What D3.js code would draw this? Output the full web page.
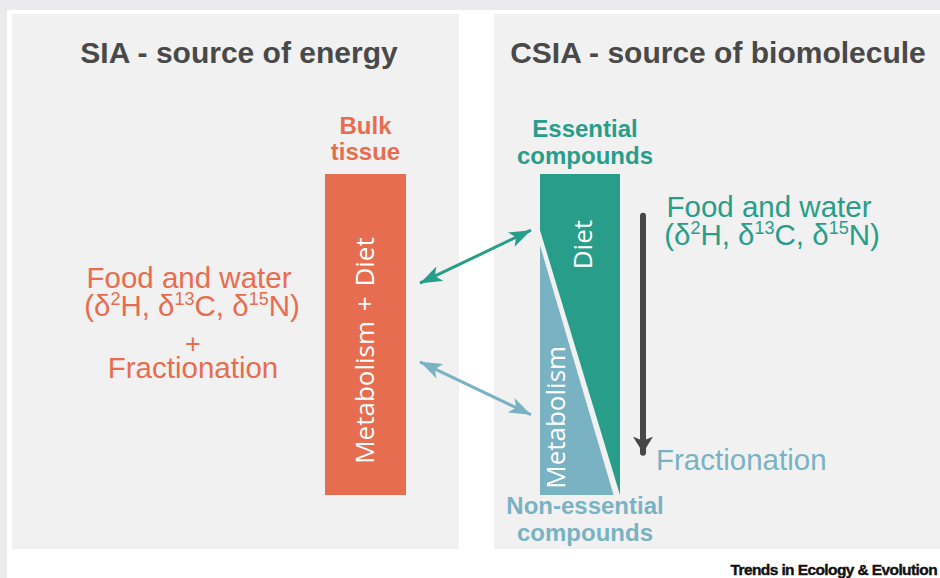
<!DOCTYPE html>
<html>
<head>
<meta charset="utf-8">
<script src="https://cdn.jsdelivr.net/npm/d3@7/dist/d3.min.js"></script>
<style>
  body { margin: 0; background: #fff; }
  svg { display: block; font-family: "Liberation Sans", Arial, sans-serif; }
</style>
</head>
<body>
<svg id="chart" width="940" height="578"></svg>
<script>
// panel headings
const panelTitles = ['SIA - source of energy', 'CSIA - source of biomolecule'];

// labels above / below the bars
const bulkLabel = ['Bulk', 'tissue'];
const essentialLabel = ['Essential', 'compounds'];
const nonEssentialLabel = ['Non-essential', 'compounds'];

// isotopes written as δ^mass element
const isotopes = [
    { mass: '2', el: 'H' },
    { mass: '13', el: 'C' },
    { mass: '15', el: 'N' },
];

// bar contents
const bulkContent = 'Metabolism + Diet';
const csiaContent = ['Diet', 'Metabolism'];

// split of the CSIA bar: depth (0 top .. 1 bottom) vs share of bar width
const dietEdge = [
    { depth: 0.175, share: 0 },
    { depth: 1.0, share: 1.0 },
];
const metabEdge = [
    { depth: 0.222, share: 0 },
    { depth: 1.0, share: 0.92 },
];

// links between bulk bar and CSIA bar (depth at each end)
const links = [
    { name: 'diet', from: 0.34, to: 0.175 },
    { name: 'metab', from: 0.585, to: 0.75 },
];

const colors = {
    orange: '#e66d4f',
    teal: '#289d8a',
    blue: '#79b3c3',
    dark: '#474747',
    title: '#494949',
    panel: '#f1f1f1',
    frame: '#ebebed',
};

const svg = d3.select('#chart');

// outer frame
svg.append('rect').attr('x', 0).attr('y', 0).attr('width', 940).attr('height', 10).style('fill', colors.frame);
svg.append('rect').attr('x', 0).attr('y', 0).attr('width', 7).attr('height', 578).style('fill', colors.frame);

// panels
const panelX = d3.scaleOrdinal().domain(panelTitles).range([12, 494]);
const panelW = 447;
svg.append('g')
    .selectAll('rect')
    .data(panelTitles)
    .enter()
    .append('rect')
    .attr('x', (d) => panelX(d))
    .attr('y', 14)
    .attr('width', panelW)
    .attr('height', 535)
    .style('fill', colors.panel);

const titleCx = d3.scaleOrdinal().domain(panelTitles).range([239, 718]);
svg.append('g')
    .selectAll('text')
    .data(panelTitles)
    .enter()
    .append('text')
    .attr('x', (d) => titleCx(d))
    .attr('y', 63)
    .attr('text-anchor', 'middle')
    .style('font-size', '30px')
    .style('font-weight', 'bold')
    .style('fill', colors.title)
    .text((d) => d);

// depth scale shared by both bars
const yDepth = d3.scaleLinear().domain([0, 1]).range([174, 495]);
// bar widths
const xBulk = d3.scaleLinear().domain([0, 1]).range([325, 406]);
const xCsia = d3.scaleLinear().domain([0, 1]).range([540, 620]);

// ---- bulk bar
svg.append('rect')
    .attr('x', xBulk(0))
    .attr('y', yDepth(0))
    .attr('width', xBulk(1) - xBulk(0))
    .attr('height', yDepth(1) - yDepth(0))
    .style('fill', colors.orange);

svg.append('text')
    .attr('transform', `translate(${xBulk(0.5) + 8}, ${yDepth(0.55)}) rotate(-90)`)
    .attr('text-anchor', 'middle')
    .style('font-family', '"Open Sans", sans-serif')
    .style('font-size', '26px')
    .style('word-spacing', '3px')
    .style('fill', '#fff')
    .text(bulkContent);

// ---- CSIA bar
const dietPoly = [
    [xCsia(0), yDepth(0)],
    [xCsia(1), yDepth(0)],
    [xCsia(1), yDepth(1)],
    ...dietEdge.slice().reverse().map((d) => [xCsia(d.share), yDepth(d.depth)]),
];
const metabPoly = [
    ...metabEdge.map((d) => [xCsia(d.share), yDepth(d.depth)]),
    [xCsia(0), yDepth(1)],
];
const line = d3.line();
svg.append('path').attr('d', line(dietPoly) + 'Z').style('fill', colors.teal);
svg.append('path').attr('d', line(metabPoly) + 'Z').style('fill', colors.blue);

svg.append('text')
    .attr('transform', `translate(${xCsia(0.5) + 12}, ${yDepth(0.22)}) rotate(-90)`)
    .attr('text-anchor', 'middle')
    .style('font-family', '"Open Sans", sans-serif')
    .style('font-size', '26px')
    .style('fill', '#fff')
    .text(csiaContent[0]);

svg.append('text')
    .attr('transform', `translate(${xCsia(0.31)}, ${yDepth(0.758)}) rotate(-90)`)
    .attr('text-anchor', 'middle')
    .style('font-family', '"Open Sans", sans-serif')
    .style('font-size', '26px')
    .style('fill', '#fff')
    .text(csiaContent[1]);

// ---- bold labels around bars (one text, one tspan per line)
function stackLabel(lines, cx, y0, color) {
    svg.append('text')
        .attr('x', cx)
        .attr('y', y0)
        .attr('text-anchor', 'middle')
        .style('font-size', '24px')
        .style('font-weight', 'bold')
        .style('fill', color)
        .selectAll('tspan')
        .data(lines)
        .enter()
        .append('tspan')
        .attr('x', cx)
        .attr('dy', (d, i) => (i === 0 ? 0 : 26.5))
        .text((d) => d);
}
stackLabel(bulkLabel, xBulk(0.5), 133.5, colors.orange);
stackLabel(essentialLabel, xCsia(0.5) + 5, 137, colors.teal);
stackLabel(nonEssentialLabel, xCsia(0.5) + 5, 514, colors.blue);

// ---- isotope text blocks
const fs = 29.5;
// rows: {kind, gap} ; gap is distance to previous baseline
function textBlock(cx, y0, color, rows) {
    const t = svg.append('text')
        .attr('x', cx)
        .attr('y', y0)
        .attr('text-anchor', 'middle')
        .style('font-size', fs + 'px')
        .style('fill', color);
    rows.forEach((r, k) => {
        const first = t.append('tspan')
            .attr('x', cx + (r.dx || 0))
            .attr('dy', k === 0 ? 0 : r.gap);
        if (r.kind === 'iso') {
            first.text('(');
            isotopes.forEach((iso, i) => {
                t.append('tspan').text('δ');
                t.append('tspan').attr('dy', -11).style('font-size', '18px').text(iso.mass);
                t.append('tspan').attr('dy', 11).text(iso.el + (i < isotopes.length - 1 ? ', ' : ')'));
            });
        } else {
            first.text(r.text);
            if (r.size) first.style('font-size', r.size + 'px');
        }
    });
}

textBlock(189, 288, colors.orange, [
    { text: 'Food and water' },
    { kind: 'iso', gap: 28, dx: 3 },
    { text: '+', gap: 37, dx: 4, size: 27 },
    { text: 'Fractionation', gap: 25, dx: 4 },
]);

textBlock(769, 217, colors.teal, [
    { text: 'Food and water' },
    { kind: 'iso', gap: 28, dx: 3 },
]);

svg.append('text').attr('x', 656).attr('y', 470).attr('text-anchor', 'start')
    .style('font-size', fs + 'px').style('fill', colors.blue).text('Fractionation');

// ---- arrow markers
const defs = svg.append('defs');
function marker(id, color, w, h) {
    defs.append('marker')
        .attr('id', id)
        .attr('viewBox', `0 0 ${w} ${h}`)
        .attr('refX', w)
        .attr('refY', h / 2)
        .attr('markerWidth', w)
        .attr('markerHeight', h)
        .attr('markerUnits', 'userSpaceOnUse')
        .attr('orient', 'auto-start-reverse')
        .append('path')
        .attr('d', `M0,0 L${w},${h / 2} L0,${h} L${w * 0.25},${h / 2} Z`)
        .style('fill', color);
}
marker('head-diet', colors.teal, 22, 16);
marker('head-metab', colors.blue, 22, 16);
marker('head-dark', colors.dark, 16, 20);

const linkColor = { diet: colors.teal, metab: colors.blue };
svg.append('g')
    .selectAll('line')
    .data(links)
    .enter()
    .append('line')
    .attr('x1', xBulk(1) + 14)
    .attr('y1', (d) => yDepth(d.from))
    .attr('x2', xCsia(0) - 9)
    .attr('y2', (d) => yDepth(d.to))
    .attr('stroke', (d) => linkColor[d.name])
    .attr('stroke-width', 3)
    .attr('marker-start', (d) => `url(#head-${d.name})`)
    .attr('marker-end', (d) => `url(#head-${d.name})`);

// fractionation arrow down the CSIA bar
svg.append('line')
    .attr('x1', 643)
    .attr('y1', yDepth(0.13))
    .attr('x2', 643)
    .attr('y2', yDepth(0.868))
    .attr('stroke', colors.dark)
    .attr('stroke-width', 6)
    .attr('stroke-linecap', 'round')
    .attr('marker-end', 'url(#head-dark)');

// footer
svg.append('text')
    .attr('x', 937)
    .attr('y', 575)
    .attr('text-anchor', 'end')
    .style('font-size', '15.5px')
    .style('font-weight', 'bold')
    .style('letter-spacing', '-0.6px')
    .style('stroke', '#111')
    .style('stroke-width', 0.4)
    .style('fill', '#111')
    .text('Trends in Ecology & Evolution');
</script>
</body>
</html>
